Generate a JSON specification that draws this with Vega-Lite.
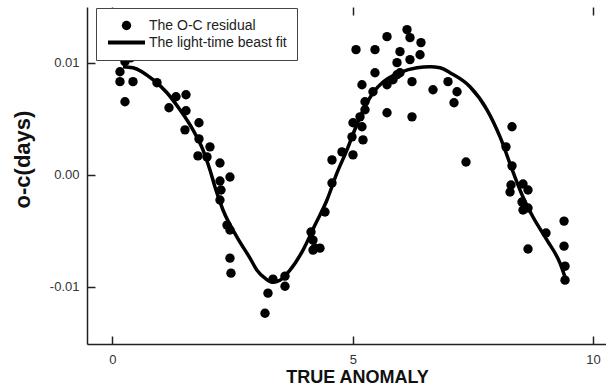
{
  "$schema": "https://vega.github.io/schema/vega-lite/v6.json",
  "width": 519,
  "height": 337,
  "autosize": "none",
  "padding": {"left": 87, "top": 7, "right": 0, "bottom": 43},
  "background": "white",
  "config": {
    "view": {"stroke": null},
    "font": "Liberation Sans",
    "axis": {"grid": false, "domainColor": "#222", "tickColor": "#222", "domainWidth": 1.5, "tickWidth": 1.5, "labelFont": "Liberation Sans", "labelColor": "#333", "labelFontSize": 13, "titleFont": "Liberation Sans", "titleColor": "#111", "titleFontWeight": "bold"},
    "legend": {"title": null, "orient": "none", "legendX": 9, "legendY": 1, "padding": 10, "strokeColor": "#444", "fillColor": "white", "clipHeight": 15, "rowPadding": 2, "labelOffset": 2, "labelFontSize": 14, "labelColor": "#222", "labelLimit": 300, "labelFont": "Liberation Sans", "symbolStrokeColor": "black", "symbolFillColor": "black", "symbolOpacity": 1}
  },
  "datasets": {
    "residuals": [
      {"x": 0.156, "y": 0.00922, "series": "The O-C residual"},
      {"x": 0.260, "y": 0.01012, "series": "The O-C residual"},
      {"x": 0.385, "y": 0.01047, "series": "The O-C residual"},
      {"x": 0.156, "y": 0.00833, "series": "The O-C residual"},
      {"x": 0.427, "y": 0.00833, "series": "The O-C residual"},
      {"x": 0.260, "y": 0.00654, "series": "The O-C residual"},
      {"x": 0.926, "y": 0.00824, "series": "The O-C residual"},
      {"x": 1.322, "y": 0.00698, "series": "The O-C residual"},
      {"x": 1.530, "y": 0.00716, "series": "The O-C residual"},
      {"x": 1.176, "y": 0.00600, "series": "The O-C residual"},
      {"x": 1.530, "y": 0.00573, "series": "The O-C residual"},
      {"x": 1.800, "y": 0.00466, "series": "The O-C residual"},
      {"x": 1.509, "y": 0.00403, "series": "The O-C residual"},
      {"x": 1.800, "y": 0.00322, "series": "The O-C residual"},
      {"x": 2.029, "y": 0.00251, "series": "The O-C residual"},
      {"x": 1.779, "y": 0.00170, "series": "The O-C residual"},
      {"x": 1.967, "y": 0.00161, "series": "The O-C residual"},
      {"x": 2.237, "y": 0.00107, "series": "The O-C residual"},
      {"x": 2.445, "y": -0.00018, "series": "The O-C residual"},
      {"x": 2.237, "y": -0.00054, "series": "The O-C residual"},
      {"x": 2.258, "y": -0.00134, "series": "The O-C residual"},
      {"x": 2.237, "y": -0.00224, "series": "The O-C residual"},
      {"x": 2.383, "y": -0.00448, "series": "The O-C residual"},
      {"x": 2.445, "y": -0.00492, "series": "The O-C residual"},
      {"x": 2.445, "y": -0.00743, "series": "The O-C residual"},
      {"x": 2.466, "y": -0.00877, "series": "The O-C residual"},
      {"x": 3.236, "y": -0.01056, "series": "The O-C residual"},
      {"x": 3.340, "y": -0.00931, "series": "The O-C residual"},
      {"x": 3.174, "y": -0.01235, "series": "The O-C residual"},
      {"x": 3.590, "y": -0.00904, "series": "The O-C residual"},
      {"x": 3.590, "y": -0.00994, "series": "The O-C residual"},
      {"x": 4.131, "y": -0.00510, "series": "The O-C residual"},
      {"x": 4.173, "y": -0.00582, "series": "The O-C residual"},
      {"x": 4.214, "y": -0.00654, "series": "The O-C residual"},
      {"x": 4.318, "y": -0.00654, "series": "The O-C residual"},
      {"x": 4.173, "y": -0.00671, "series": "The O-C residual"},
      {"x": 4.423, "y": -0.00331, "series": "The O-C residual"},
      {"x": 4.568, "y": -0.00072, "series": "The O-C residual"},
      {"x": 4.568, "y": 0.00134, "series": "The O-C residual"},
      {"x": 4.776, "y": 0.00206, "series": "The O-C residual"},
      {"x": 5.005, "y": 0.00179, "series": "The O-C residual"},
      {"x": 5.213, "y": 0.00313, "series": "The O-C residual"},
      {"x": 4.984, "y": 0.00340, "series": "The O-C residual"},
      {"x": 5.005, "y": 0.00466, "series": "The O-C residual"},
      {"x": 5.192, "y": 0.00430, "series": "The O-C residual"},
      {"x": 5.151, "y": 0.00519, "series": "The O-C residual"},
      {"x": 5.255, "y": 0.00582, "series": "The O-C residual"},
      {"x": 5.255, "y": 0.00654, "series": "The O-C residual"},
      {"x": 5.192, "y": 0.00806, "series": "The O-C residual"},
      {"x": 5.421, "y": 0.00743, "series": "The O-C residual"},
      {"x": 5.463, "y": 0.00913, "series": "The O-C residual"},
      {"x": 5.463, "y": 0.01119, "series": "The O-C residual"},
      {"x": 5.068, "y": 0.01119, "series": "The O-C residual"},
      {"x": 5.713, "y": 0.01235, "series": "The O-C residual"},
      {"x": 5.713, "y": 0.00806, "series": "The O-C residual"},
      {"x": 5.713, "y": 0.00555, "series": "The O-C residual"},
      {"x": 5.921, "y": 0.00895, "series": "The O-C residual"},
      {"x": 5.921, "y": 0.01003, "series": "The O-C residual"},
      {"x": 5.983, "y": 0.01101, "series": "The O-C residual"},
      {"x": 6.129, "y": 0.01298, "series": "The O-C residual"},
      {"x": 6.191, "y": 0.01226, "series": "The O-C residual"},
      {"x": 6.420, "y": 0.01182, "series": "The O-C residual"},
      {"x": 6.400, "y": 0.01074, "series": "The O-C residual"},
      {"x": 6.191, "y": 0.01030, "series": "The O-C residual"},
      {"x": 6.233, "y": 0.00833, "series": "The O-C residual"},
      {"x": 6.233, "y": 0.00519, "series": "The O-C residual"},
      {"x": 5.983, "y": 0.00913, "series": "The O-C residual"},
      {"x": 5.838, "y": 0.00850, "series": "The O-C residual"},
      {"x": 6.670, "y": 0.00761, "series": "The O-C residual"},
      {"x": 6.982, "y": 0.00833, "series": "The O-C residual"},
      {"x": 7.170, "y": 0.00743, "series": "The O-C residual"},
      {"x": 7.107, "y": 0.00645, "series": "The O-C residual"},
      {"x": 8.314, "y": 0.00430, "series": "The O-C residual"},
      {"x": 8.189, "y": 0.00251, "series": "The O-C residual"},
      {"x": 7.357, "y": 0.00116, "series": "The O-C residual"},
      {"x": 8.314, "y": 0.00081, "series": "The O-C residual"},
      {"x": 8.293, "y": -0.00090, "series": "The O-C residual"},
      {"x": 8.543, "y": -0.00081, "series": "The O-C residual"},
      {"x": 8.273, "y": -0.00152, "series": "The O-C residual"},
      {"x": 8.647, "y": -0.00134, "series": "The O-C residual"},
      {"x": 8.522, "y": -0.00242, "series": "The O-C residual"},
      {"x": 8.543, "y": -0.00313, "series": "The O-C residual"},
      {"x": 8.647, "y": -0.00295, "series": "The O-C residual"},
      {"x": 9.397, "y": -0.00412, "series": "The O-C residual"},
      {"x": 9.022, "y": -0.00519, "series": "The O-C residual"},
      {"x": 8.647, "y": -0.00662, "series": "The O-C residual"},
      {"x": 9.397, "y": -0.00636, "series": "The O-C residual"},
      {"x": 9.417, "y": -0.00815, "series": "The O-C residual"},
      {"x": 9.417, "y": -0.00940, "series": "The O-C residual"}
    ],
    "fit": [
      {"x": 0.219, "y": 0.00967, "series": "The light-time beast fit"},
      {"x": 0.427, "y": 0.00958, "series": "The light-time beast fit"},
      {"x": 0.843, "y": 0.00851, "series": "The light-time beast fit"},
      {"x": 1.134, "y": 0.00734, "series": "The light-time beast fit"},
      {"x": 1.405, "y": 0.00582, "series": "The light-time beast fit"},
      {"x": 1.675, "y": 0.00403, "series": "The light-time beast fit"},
      {"x": 1.883, "y": 0.00224, "series": "The light-time beast fit"},
      {"x": 2.029, "y": 0.00045, "series": "The light-time beast fit"},
      {"x": 2.133, "y": -0.00107, "series": "The light-time beast fit"},
      {"x": 2.300, "y": -0.00313, "series": "The light-time beast fit"},
      {"x": 2.591, "y": -0.00555, "series": "The light-time beast fit"},
      {"x": 2.862, "y": -0.00743, "series": "The light-time beast fit"},
      {"x": 3.007, "y": -0.00851, "series": "The light-time beast fit"},
      {"x": 3.174, "y": -0.00922, "series": "The light-time beast fit"},
      {"x": 3.330, "y": -0.00958, "series": "The light-time beast fit"},
      {"x": 3.486, "y": -0.00940, "series": "The light-time beast fit"},
      {"x": 3.694, "y": -0.00851, "series": "The light-time beast fit"},
      {"x": 3.965, "y": -0.00671, "series": "The light-time beast fit"},
      {"x": 4.214, "y": -0.00448, "series": "The light-time beast fit"},
      {"x": 4.464, "y": -0.00224, "series": "The light-time beast fit"},
      {"x": 4.672, "y": 0.00018, "series": "The light-time beast fit"},
      {"x": 4.880, "y": 0.00224, "series": "The light-time beast fit"},
      {"x": 5.067, "y": 0.00430, "series": "The light-time beast fit"},
      {"x": 5.255, "y": 0.00610, "series": "The light-time beast fit"},
      {"x": 5.442, "y": 0.00745, "series": "The light-time beast fit"},
      {"x": 5.630, "y": 0.00830, "series": "The light-time beast fit"},
      {"x": 5.983, "y": 0.00915, "series": "The light-time beast fit"},
      {"x": 6.337, "y": 0.00958, "series": "The light-time beast fit"},
      {"x": 6.608, "y": 0.00967, "series": "The light-time beast fit"},
      {"x": 6.816, "y": 0.00958, "series": "The light-time beast fit"},
      {"x": 7.024, "y": 0.00913, "series": "The light-time beast fit"},
      {"x": 7.440, "y": 0.00788, "series": "The light-time beast fit"},
      {"x": 7.794, "y": 0.00582, "series": "The light-time beast fit"},
      {"x": 8.065, "y": 0.00340, "series": "The light-time beast fit"},
      {"x": 8.335, "y": 0.00027, "series": "The light-time beast fit"},
      {"x": 8.543, "y": -0.00197, "series": "The light-time beast fit"},
      {"x": 8.751, "y": -0.00376, "series": "The light-time beast fit"},
      {"x": 9.042, "y": -0.00582, "series": "The light-time beast fit"},
      {"x": 9.313, "y": -0.00788, "series": "The light-time beast fit"},
      {"x": 9.417, "y": -0.00913, "series": "The light-time beast fit"}
    ]
  },
  "resolve": {"axis": {"x": "independent"}},
  "layer": [
    {
      "data": {"name": "residuals"},
      "mark": {"type": "point", "filled": true, "opacity": 1},
      "encoding": {
        "x": {"field": "x", "type": "quantitative", "scale": {"domain": [-0.53, 10.27], "nice": false, "zero": false},
          "axis": {"orient": "bottom", "values": [0, 5, 10], "tickSize": -8, "labelPadding": 17, "labelFontSize": 13, "title": "TRUE ANOMALY", "titleFontSize": 18, "titleX": 270, "titleY": 33, "titleBaseline": "middle", "titleAlign": "center"}},
        "y": {"field": "y", "type": "quantitative", "scale": {"domain": [-0.0151, 0.015], "nice": false, "zero": false},
          "axis": {"orient": "left", "values": [-0.01, 0, 0.01], "tickSize": -8, "labelPadding": 16, "labelExpr": "datum.value < 0 ? '-' + format(-datum.value, '.2f') : format(abs(datum.value), '.2f')", "title": "o-c(days)", "titleFontSize": 22, "titleX": -65, "titleY": 152, "titleAngle": -90, "titleAlign": "center", "titleBaseline": "middle"}},
        "color": {"field": "series", "type": "nominal",
          "scale": {"domain": ["The O-C residual", "The light-time beast fit"], "range": ["black", "black"]}},
        "shape": {"field": "series", "type": "nominal",
          "scale": {"domain": ["The O-C residual", "The light-time beast fit"], "range": ["circle", "stroke"]}},
        "size": {"field": "series", "type": "nominal",
          "scale": {"type": "ordinal", "domain": ["The O-C residual", "The light-time beast fit"], "range": [88, 1369]}},
        "strokeWidth": {"field": "series", "type": "nominal",
          "scale": {"type": "ordinal", "domain": ["The O-C residual", "The light-time beast fit"], "range": [0, 4]}}
      }
    },
    {
      "data": {"name": "fit"},
      "mark": {"type": "line", "strokeWidth": 3.5, "interpolate": "monotone", "color": "black"},
      "encoding": {
        "x": {"field": "x", "type": "quantitative",
          "axis": {"orient": "top", "values": [0, 5, 10], "tickSize": -8, "labels": false, "domain": false, "title": null}},
        "y": {"field": "y", "type": "quantitative"}
      }
    }
  ]
}
